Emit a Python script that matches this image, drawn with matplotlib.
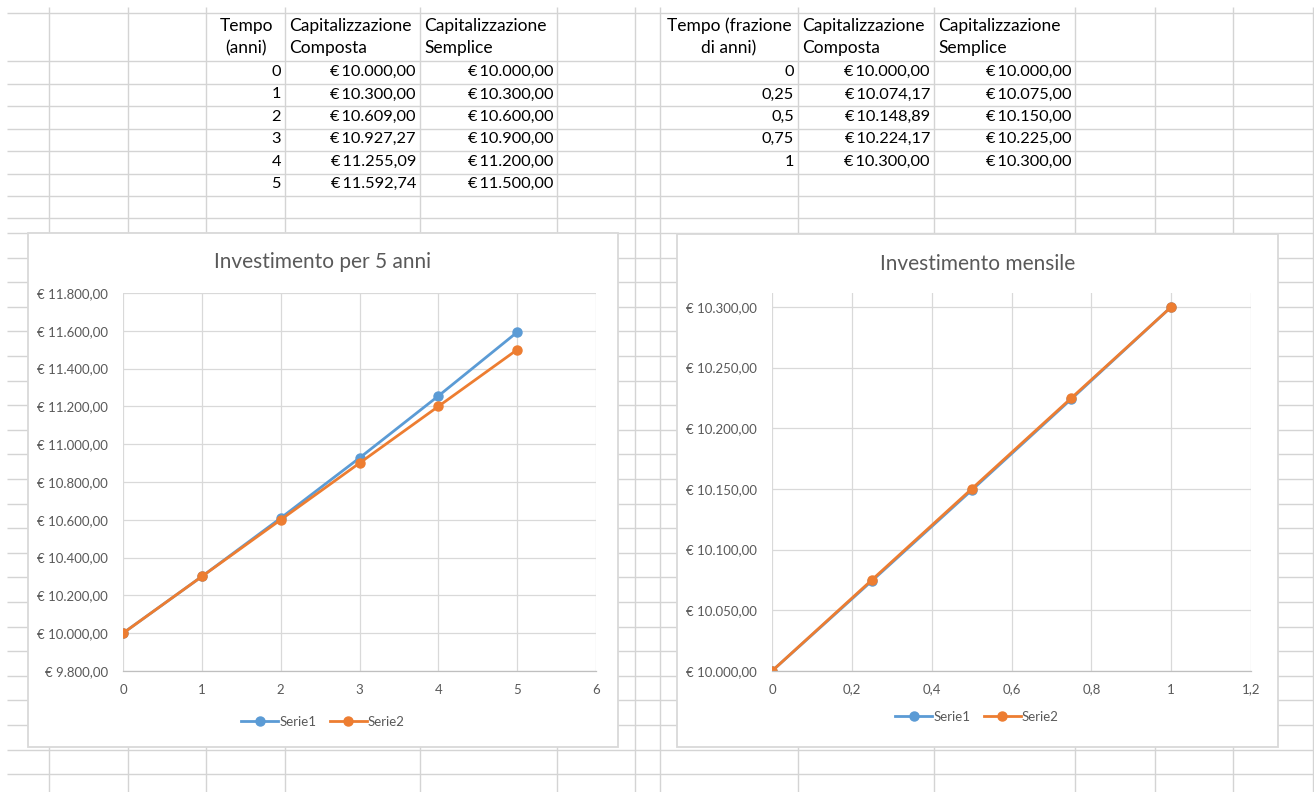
import matplotlib
matplotlib.use("Agg")
import matplotlib.pyplot as plt
from matplotlib.patches import Rectangle
import numpy as np

plt.rcParams['font.family'] = ['Lato', 'DejaVu Sans']

# --- dati ---
anni = [0, 1, 2, 3, 4, 5]
composta_anni = [10000.00, 10300.00, 10609.00, 10927.27, 11255.09, 11592.74]
semplice_anni = [10000.00, 10300.00, 10600.00, 10900.00, 11200.00, 11500.00]

frazioni = [0, 0.25, 0.5, 0.75, 1]
composta_frazioni = [10000.00, 10074.17, 10148.89, 10224.17, 10300.00]
semplice_frazioni = [10000.00, 10075.00, 10150.00, 10225.00, 10300.00]

intestazioni_sx = ["Tempo\n(anni)", "Capitalizzazione\nComposta", "Capitalizzazione\nSemplice"]
intestazioni_dx = ["Tempo (frazione\ndi anni)", "Capitalizzazione\nComposta", "Capitalizzazione\nSemplice"]
nomi_serie = ["Serie1", "Serie2"]
titoli = ["Investimento per 5 anni", "Investimento mensile"]

W, H = 1314, 792
BLU = "#5B9BD5"
ARANCIO = "#ED7D31"
GRIGIO_TESTO = "#595959"
GRIGLIA = "#D9D9D9"
CELLE = "#D4D4D4"


def euro(v, pos=None, spazio=" "):
    s = "{:,.2f}".format(v).replace(",", "X").replace(".", ",").replace("X", ".")
    return "\u20ac" + spazio + s


def num(v, pos=None):
    return "{:g}".format(round(v, 6)).replace(".", ",")


fig = plt.figure(figsize=(W / 100, H / 100), dpi=100)
fig.patch.set_facecolor("white")

# foglio di calcolo in coordinate pixel
sheet = fig.add_axes([0, 0, 1, 1])
sheet.set_xlim(0, W)
sheet.set_ylim(H, 0)
sheet.axis("off")

col_x = [49, 128, 206, 285, 420, 557, 635, 660, 798, 934, 1075, 1155, 1233, 1313]
row_y = [13, 61, 83.5, 106, 128.5, 151, 173.5, 196, 218] + list(233 + 24.6 * np.arange(23))
sheet.vlines(col_x, 7, H, color=CELLE, lw=1)
sheet.hlines(row_y, 7, W, color=CELLE, lw=1)

fs_cella = 12.5
fs_valori = 11.8
riga0 = 72
passo = 22.4

# tabella a sinistra
sheet.text(246, 37, intestazioni_sx[0], ha="center", va="center", fontsize=fs_cella,
           linespacing=1.45)
sheet.text(289, 37, intestazioni_sx[1], ha="left", va="center", fontsize=fs_cella,
           linespacing=1.45)
sheet.text(424, 37, intestazioni_sx[2], ha="left", va="center", fontsize=fs_cella,
           linespacing=1.45)
for i in range(len(anni)):
    y = riga0 + passo * i
    sheet.text(281, y, num(anni[i]), ha="right", va="center", fontsize=fs_valori)
    sheet.text(416, y, euro(composta_anni[i], spazio="\u2009"), ha="right", va="center",
               fontsize=fs_valori)
    sheet.text(553, y, euro(semplice_anni[i], spazio="\u2009"), ha="right", va="center",
               fontsize=fs_valori)

# tabella a destra
sheet.text(729, 37, intestazioni_dx[0], ha="center", va="center", fontsize=fs_cella,
           linespacing=1.45, multialignment="center")
sheet.text(802, 37, intestazioni_dx[1], ha="left", va="center", fontsize=fs_cella,
           linespacing=1.45)
sheet.text(938, 37, intestazioni_dx[2], ha="left", va="center", fontsize=fs_cella,
           linespacing=1.45)
for i in range(len(frazioni)):
    y = riga0 + passo * i
    sheet.text(794, y, num(frazioni[i]), ha="right", va="center", fontsize=fs_valori)
    sheet.text(930, y, euro(composta_frazioni[i], spazio="\u2009"), ha="right", va="center",
               fontsize=fs_valori)
    sheet.text(1071, y, euro(semplice_frazioni[i], spazio="\u2009"), ha="right", va="center",
               fontsize=fs_valori)


def pannello(box, area, titolo, titolo_y):
    x0, y0, x1, y1 = box
    sheet.add_patch(Rectangle((x0, y0), x1 - x0, y1 - y0, facecolor="white",
                              edgecolor=GRIGLIA, lw=1.3, zorder=5))
    sheet.text((x0 + x1) / 2, titolo_y, titolo, ha="center", va="center",
               fontsize=15, color=GRIGIO_TESTO, zorder=6)
    a0, b0, a1, b1 = area
    ax = fig.add_axes([a0 / W, 1 - b1 / H, (a1 - a0) / W, (b1 - b0) / H])
    ax.patch.set_alpha(0)
    for s in ["left", "right", "top"]:
        ax.spines[s].set_visible(False)
    ax.spines["bottom"].set_color("#BFBFBF")
    ax.spines["bottom"].set_linewidth(0.9)
    ax.grid(True, color=GRIGLIA, lw=0.9)
    ax.set_axisbelow(True)
    ax.tick_params(length=0, labelsize=9.5, labelcolor=GRIGIO_TESTO)
    ax.tick_params(axis="y", pad=11)
    ax.tick_params(axis="x", pad=9)
    return ax


def legenda(ax, cx, cy):
    ax.legend(loc="center", bbox_to_anchor=(cx / W, 1 - cy / H), bbox_transform=fig.transFigure,
              ncol=2, frameon=False, fontsize=9.5, handlelength=2.8, columnspacing=1.0,
              handletextpad=0.1, labelcolor=GRIGIO_TESTO)


# grafico 5 anni
ax1 = pannello((28, 233, 618, 747), (123, 293, 596, 671), titoli[0], 262)
ax1.plot(anni, composta_anni, color=BLU, lw=2.0, marker="o", ms=6.5, label=nomi_serie[0])
ax1.plot(anni, semplice_anni, color=ARANCIO, lw=2.0, marker="o", ms=6.5, label=nomi_serie[1])
ax1.set_xlim(0, 6)
ax1.set_ylim(9800, 11800)
ax1.set_xticks(range(0, 7))
ax1.set_yticks(np.arange(9800, 11801, 200))
ax1.yaxis.set_major_formatter(euro)
ax1.xaxis.set_major_formatter(num)
legenda(ax1, 323, 722)

# grafico mensile
ax2 = pannello((677, 234, 1278, 747), (772, 293, 1251, 671), titoli[1], 264)
ax2.plot(frazioni, composta_frazioni, color=BLU, lw=2.0, marker="o", ms=6.5, label=nomi_serie[0])
ax2.plot(frazioni, semplice_frazioni, color=ARANCIO, lw=2.0, marker="o", ms=6.5, label=nomi_serie[1])
ax2.set_xlim(0, 1.2)
ax2.set_ylim(10000, 10311.5)
ax2.set_xticks(np.arange(0, 1.21, 0.2))
ax2.set_yticks(np.arange(10000, 10301, 50))
ax2.yaxis.set_major_formatter(euro)
ax2.xaxis.set_major_formatter(num)
legenda(ax2, 977, 717)

fig.savefig("out.png", dpi=100, facecolor="white")
